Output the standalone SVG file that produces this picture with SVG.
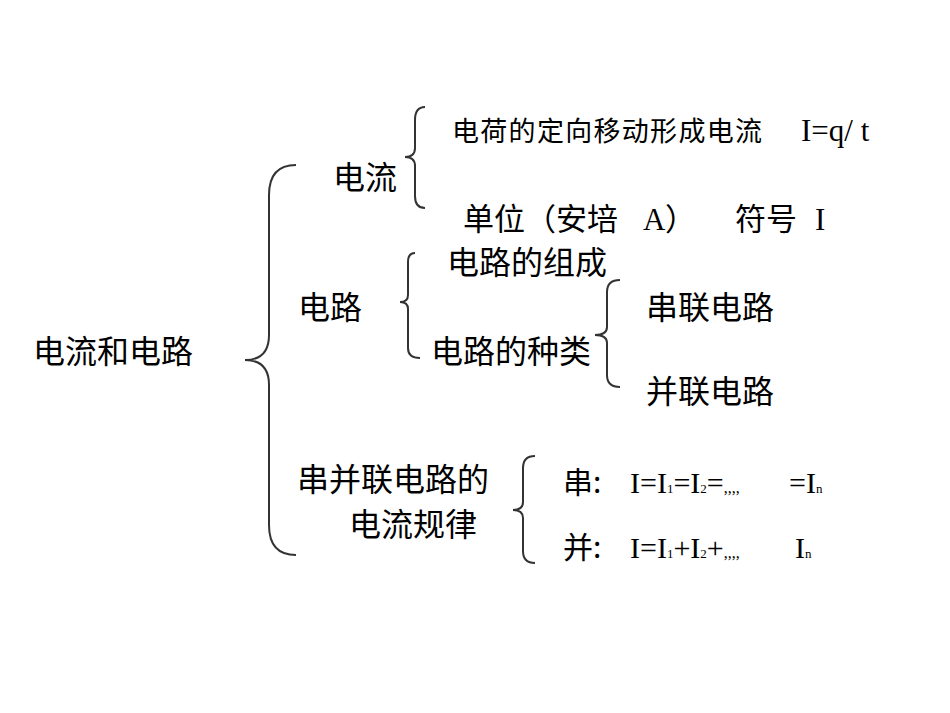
<svg xmlns="http://www.w3.org/2000/svg" width="950" height="713" viewBox="0 0 950 713">
<style>
.t{font-family:"Noto Sans CJK SC","Noto Sans",sans-serif;fill:#000}
.s{font-family:"Liberation Serif","Noto Sans CJK SC",serif;fill:#000}
.b{fill:none;stroke:#333;stroke-width:2}
</style>
<rect width="950" height="713" fill="#fff"/>
<g id="connectors">
<path class="b" d="M296,165 Q269,165 269,195 L269,335 Q269,360 245,360 Q269,360 269,385 L269,525 Q269,555 296,555"/>
<path class="b" d="M425,107 Q415,107 415,120 L415,148 Q415,157 405,157 Q415,157 415,166 L415,196 Q415,208 425,208"/>
<path class="b" d="M415,253 Q408,253 408,262 L408,295 Q408,302 400,302 Q408,302 408,309 L408,348 Q408,358 420,358"/>
<path class="b" d="M620,280 Q607,280 607,292 L607,327 Q607,335 595,335 Q607,335 607,343 L607,375 Q607,387 620,387"/>
<path class="b" d="M535,456 Q523,456 523,468 L523,502 Q523,510 513,510 Q523,510 523,518 L523,551 Q523,563 535,563"/>
</g>
<g id="root"><text class="t" x="33" y="363" font-size="32">电流和电路</text></g>
<g id="current"><text class="t" x="333" y="189" font-size="32">电流</text></g>
<g id="current-def"><text x="452" y="141" font-size="27"><tspan class="t" letter-spacing="1.3">电荷的定向移动形成电流</tspan><tspan class="s" x="801" font-size="31">I=q/ t</tspan></text></g>
<g id="current-unit"><text x="463" y="230" font-size="31"><tspan class="t">单位（安培</tspan><tspan class="s" x="643">A</tspan><tspan class="t" x="665">）</tspan><tspan class="t" x="735">符号</tspan><tspan class="s" x="815">I</tspan></text></g>
<g id="circuit"><text class="t" x="298" y="319" font-size="32">电路</text></g>
<g id="circuit-composition"><text class="t" x="447" y="274" font-size="32">电路的组成</text></g>
<g id="circuit-types"><text class="t" x="431" y="363" font-size="32">电路的种类</text></g>
<g id="series"><text class="t" x="646" y="319" font-size="32">串联电路</text></g>
<g id="parallel"><text class="t" x="646" y="403" font-size="32">并联电路</text></g>
<g id="rules"><text class="t" x="297" y="491" font-size="32">串并联电路的</text><text class="t" x="349" y="536" font-size="32">电流规律</text></g>
<g id="series-rule"><text x="563" y="493" font-size="30"><tspan class="t">串:</tspan><tspan class="s" x="630">I=I</tspan><tspan class="s" font-size="13">1</tspan><tspan class="s">=I</tspan><tspan class="s" font-size="13">2</tspan><tspan class="s">=</tspan><tspan class="s" font-size="16">,,,,</tspan><tspan class="s" x="789">=I</tspan><tspan class="s" font-size="13">n</tspan></text></g>
<g id="parallel-rule"><text x="563" y="558" font-size="30"><tspan class="t">并:</tspan><tspan class="s" x="630">I=I</tspan><tspan class="s" font-size="13">1</tspan><tspan class="s">+I</tspan><tspan class="s" font-size="13">2</tspan><tspan class="s">+</tspan><tspan class="s" font-size="16">,,,,</tspan><tspan class="s" x="795">I</tspan><tspan class="s" font-size="13">n</tspan></text></g>
</svg>
